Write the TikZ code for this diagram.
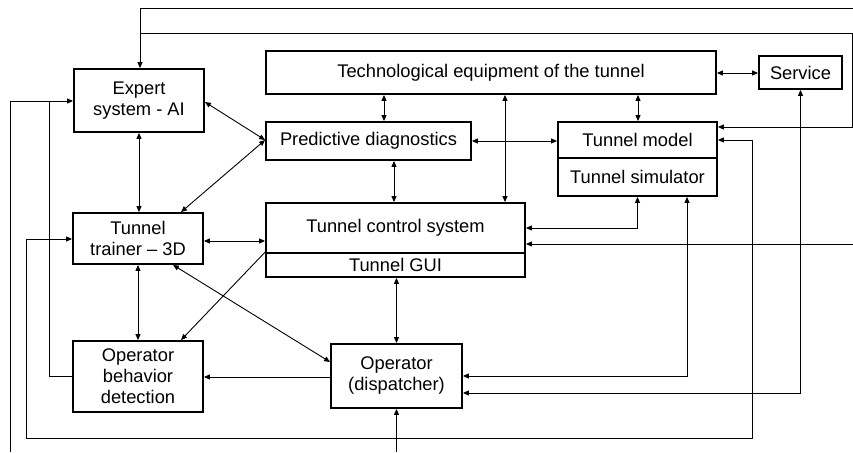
\documentclass[tikz,border=0pt]{standalone}
\usepackage{fontspec}
\setmainfont{Liberation Sans}
\usetikzlibrary{arrows.meta}
\begin{document}
\begin{tikzpicture}[x=1pt,y=-1pt,
  box/.style={draw, line width=1.8pt, inner sep=0pt, align=center,
     font=\fontsize{18.3}{21}\selectfont},
  conn/.style={line width=0.9pt},
  tip/.style={-{Triangle[length=6pt,width=5pt]}},
  tips/.style={{Triangle[length=6pt,width=5pt]}-{Triangle[length=6pt,width=5pt]}}]
\useasboundingbox (0,0) rectangle (853,452);
% boxes
\node[box, minimum width=130pt, minimum height=63pt] (expert) at (139,100.5) {Expert\\system - AI};
\node[box, minimum width=130pt, minimum height=51pt] (trainer) at (138,238.5) {Tunnel\\trainer -- 3D};
\node[box, minimum width=130pt, minimum height=71pt] (obd) at (138,376.5) {Operator\\behavior\\detection};
\node[box, minimum width=450pt, minimum height=43pt] (tech) at (491,72.5) {Technological equipment of the tunnel};
\node[box, minimum width=83pt, minimum height=33pt] (service) at (800.5,72.5) {Service};
\node[box, minimum width=205pt, minimum height=38pt] (pred) at (368.5,141) {Predictive diagnostics};
\node[box, minimum width=159pt, minimum height=36pt] (tmodel) at (637.5,140) {Tunnel model};
\node[box, minimum width=159pt, minimum height=38pt] (tsim) at (637.5,177) {Tunnel simulator};
\node[box, minimum width=259pt, minimum height=50pt] (tcs) at (395.5,228) {Tunnel control system};
\node[box, minimum width=259pt, minimum height=24pt] (gui) at (395.5,265) {Tunnel GUI};
\node[box, minimum width=131pt, minimum height=64pt] (op) at (396.5,376) {Operator\\(dispatcher)};
% free ends
\coordinate (inTop) at (853,8);
\coordinate (inRight) at (853,244);
\coordinate (inLeft) at (10,452);
\coordinate (inBottom) at (396.5,452);
% connectors
\draw[conn,tips] (tech.south -| 384,0) -- (pred.north -| 384,0);
\draw[conn,tips] (tech.south -| 505,0) -- (tcs.north -| 505,0);
\draw[conn,tips] (tech.south -| 638,0) -- (tmodel.north -| 638,0);
\draw[conn,tips] (tech.east |- 0,73) -- (service.west |- 0,73);
\draw[conn,tips] (pred.east) -- (pred.east -| tmodel.west);
\draw[conn,tips] (pred.south -| 394,0) -- (tcs.north -| 394,0);
\draw[conn,tips] (expert.east |- 0,102) -- (pred.west |- 0,140);
\draw[conn,tips] (trainer.north -| 181,0) -- (pred.west |- 0,140);
\draw[conn,tips] (expert.south) -- (expert.south |- trainer.north);
\draw[conn,tips] (trainer.east |- 0,241) -- (tcs.west |- 0,241);
\draw[conn,tips] (trainer.south) -- (obd.north);
\draw[conn,tip] (gui.north west) -- (obd.north -| 181,0);
\draw[conn,tips] (trainer.south -| 173,0) -- (op.west |- 0,362);
\draw[conn,tip] (op.west |- 0,377) -- (obd.east |- 0,377);
\draw[conn,tips] (gui.south -| 396.5,0) -- (op.north);
\draw[conn,tips] (tsim.south) |- (tcs.east);
\draw[conn,tips] (tsim.south -| 687,0) |- (op.east);
\draw[conn,tips] (service.south) |- (op.east |- 0,393);
\draw[conn,tip] (inRight) -- (tcs.east |- inRight);
\draw[conn,tips] (tmodel.east |- 0,140) -- (752,140) -- (752,438) -- (26,438) -- (26,239) -- (trainer.west |- 0,239);
\draw[conn,tips] (tmodel.east |- 0,127) -- (852,127) -- (852,33) -- (140,33) -- (expert.north -| 140,0);
\draw[conn] (inTop) -- (140,8) -- (140,33);
\draw[conn,tip] (obd.west) -| (49,101) -- (expert.west |- 0,101);
\draw[conn] (inLeft) -- (10,101) -- (49,101);
\draw[conn,tip] (inBottom) -- (op.south);
\end{tikzpicture}
\end{document}
